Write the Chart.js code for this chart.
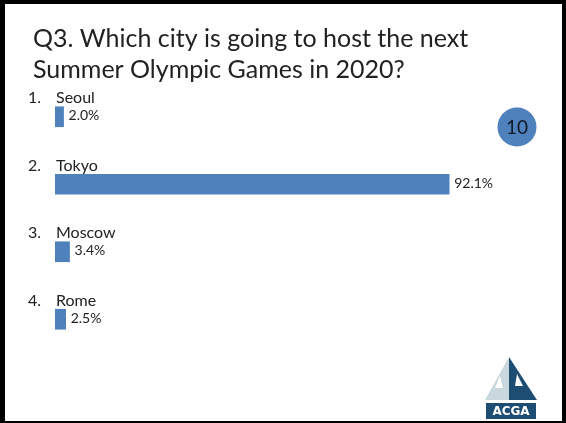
<!DOCTYPE html>
<html>
<head>
    <title>Q3</title>
    <script src="https://cdn.jsdelivr.net/npm/chart.js"></script>
    <style>
        html, body { margin: 0; padding: 0; background: #fff; }
        .slide { width: 566px; height: 423px; position: relative; }
    </style>
</head>
<body>
    <div class="slide">
        <canvas id="pollChart"></canvas>
    </div>

    <script>
        const titleLines = ['Q3. Which city is going to host the next', 'Summer Olympic Games in 2020?'];
        const cities = ['Seoul', 'Tokyo', 'Moscow', 'Rome'];
        const shares = [2.0, 92.1, 3.4, 2.5];
        const responseCount = 10;

        const barBlue = '#4F81BD';
        const textFont = 'Lato, "Open Sans", sans-serif';

        // slide frame, title, answer labels, response counter and logo
        const slideDecor = {
            id: 'slideDecor',
            beforeDraw(chart) {
                const c = chart.ctx;
                c.save();
                c.fillStyle = '#fff';
                c.fillRect(0, 0, chart.width, chart.height);
                c.restore();
            },
            afterDraw(chart) {
                const c = chart.ctx;
                const xs = chart.scales.x;
                const ys = chart.scales.y;
                c.save();

                // frame
                c.fillStyle = '#000';
                c.fillRect(0, 0, chart.width, 4);
                c.fillRect(0, 0, 5, chart.height);
                c.fillRect(chart.width - 4, 0, 4, chart.height);
                c.fillRect(0, chart.height - 2, chart.width, 2);

                // title
                c.fillStyle = '#222';
                c.font = '25px ' + textFont;
                c.textBaseline = 'alphabetic';
                c.textAlign = 'left';
                c.fillText(titleLines[0], 33, 47);
                c.fillText(titleLines[1], 33, 78);

                // numbered answers and percentages
                cities.forEach((name, i) => {
                    const y = ys.getPixelForValue(i);
                    c.fillStyle = '#222';
                    c.font = '16px ' + textFont;
                    c.fillText((i + 1) + '.', 28, y - 13.5);
                    c.fillText(name, 56, y - 13.5);
                    c.font = '14px ' + textFont;
                    c.fillText(shares[i].toFixed(1) + '%', xs.getPixelForValue(shares[i]) + 5, y + 3.5);
                });

                // response counter
                c.beginPath();
                c.arc(517, 127, 19.5, 0, Math.PI * 2);
                c.fillStyle = barBlue;
                c.fill();
                c.fillStyle = '#111827';
                c.font = '19px ' + textFont;
                c.textAlign = 'center';
                c.textBaseline = 'middle';
                c.fillText(String(responseCount), 517, 128);

                // logo
                c.fillStyle = '#c9d7de';
                c.beginPath();
                c.moveTo(509, 357); c.lineTo(485, 400); c.lineTo(509, 400);
                c.closePath(); c.fill();
                c.fillStyle = '#1e4d74';
                c.beginPath();
                c.moveTo(509, 357); c.lineTo(537, 400); c.lineTo(509, 400);
                c.closePath(); c.fill();
                c.fillStyle = '#fff';
                c.beginPath();
                c.moveTo(500, 376); c.lineTo(495, 388); c.lineTo(503, 388);
                c.closePath(); c.fill();
                c.beginPath();
                c.moveTo(517, 374); c.lineTo(515, 386); c.lineTo(523, 386);
                c.closePath(); c.fill();
                c.fillStyle = '#1e4d74';
                c.fillRect(486, 403, 50, 16);
                c.fillStyle = '#fff';
                c.font = 'bold 12px "DejaVu Sans", sans-serif';
                c.textAlign = 'center';
                c.textBaseline = 'middle';
                c.fillText('ACGA', 511, 411.5);

                c.restore();
            }
        };

        new Chart(document.getElementById('pollChart'), {
            type: 'bar',
            data: {
                labels: cities,
                datasets: [{
                    data: shares,
                    backgroundColor: barBlue,
                    borderWidth: 0,
                    barThickness: 20
                }]
            },
            options: {
                indexAxis: 'y',
                responsive: true,
                maintainAspectRatio: false,
                animation: false,
                layout: {
                    padding: { left: 55, right: 83, top: 83, bottom: 70 }
                },
                plugins: {
                    legend: { display: false },
                    tooltip: { enabled: false }
                },
                scales: {
                    x: { min: 0, max: 100, display: false },
                    y: { display: false, offset: true }
                }
            },
            plugins: [slideDecor]
        });
    </script>
</body>
</html>
